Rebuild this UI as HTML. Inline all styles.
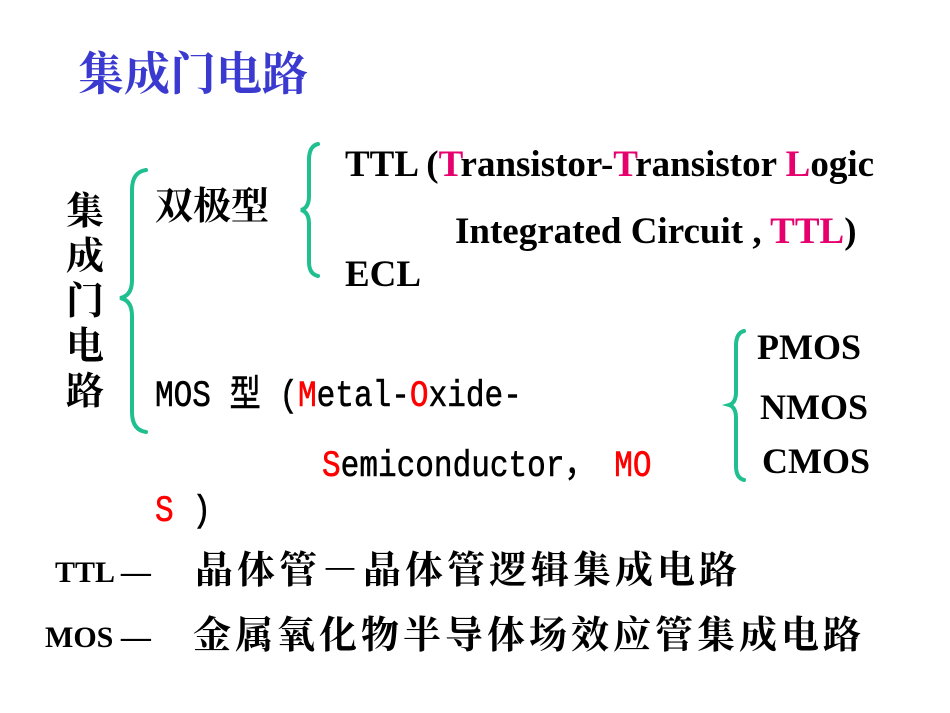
<!DOCTYPE html>
<html><head><meta charset="utf-8"><style>
body{margin:0;width:950px;height:713px;background:#fff;position:relative;overflow:hidden}
.a{position:absolute;white-space:nowrap;line-height:1}
.cn{font-family:"Liberation Serif","Noto Serif CJK SC",serif;font-weight:bold}
.en{font-family:"Liberation Serif",serif;font-weight:bold;font-size:36px}
.mo{font-family:"Liberation Mono","Noto Sans CJK SC",monospace;font-size:37px;transform:scaleX(0.84);transform-origin:left top;-webkit-text-stroke:0.6px currentColor}
.p{color:#e6006e}.r{color:#f00}
</style></head><body>
<div class="a cn" style="left:78px;top:52px;font-size:46px;color:#3a3ad0">集成门电路</div>
<div class="a cn" style="left:66px;top:190px;font-size:38px;line-height:45px;width:40px;white-space:normal">集成门电路</div>
<svg class="a" style="left:0;top:0" width="950" height="713">
<g fill="none" stroke="#1fbf8f" stroke-width="4" stroke-linecap="round">
<path d="M146,170 Q132,172 132,190 L132,280 Q132,296 120,298 Q132,300 132,316 L132,412 Q132,430 146,432"/>
<path d="M318,144 Q309,146 309,160 L309,196 Q309,208 301,210 Q309,212 309,224 L309,262 Q309,274 318,276"/>
<path d="M744,331 Q736,333 736,346 L736,392 Q736,403 729,405 Q736,407 736,418 L736,466 Q736,478 744,480"/>
</g></svg>
<div class="a cn" style="left:155px;top:188px;font-size:38px">双极型</div>
<div class="a en" style="left:345px;top:146px;font-size:37px">TTL (<span class="p">T</span>ransistor-<span class="p">T</span>ransistor <span class="p">L</span>ogic</div>
<div class="a en" style="left:455px;top:213px;font-size:37px">Integrated Circuit , <span class="p">TTL</span>)</div>
<div class="a en" style="left:345px;top:256px;font-size:37px">ECL</div>
<div class="a en" style="left:757px;top:329px">PMOS</div>
<div class="a en" style="left:760px;top:389px">NMOS</div>
<div class="a en" style="left:762px;top:443px">CMOS</div>
<div class="a mo" style="left:155px;top:379px">MOS 型 (<span class="r">M</span>etal-<span class="r">O</span>xide-</div>
<div class="a mo" style="left:322px;top:449px"><span class="r">S</span>emiconductor， <span class="r">MO</span></div>
<div class="a mo" style="left:155px;top:494px"><span class="r">S</span> )</div>
<div class="a en" style="left:55px;top:558px;font-size:30px">TTL —</div>
<div class="a cn" style="left:195px;top:552px;font-size:38px;letter-spacing:4px">晶体管－晶体管逻辑集成电路</div>
<div class="a en" style="left:45px;top:623px;font-size:30px">MOS —</div>
<div class="a cn" style="left:193px;top:617px;font-size:38px;letter-spacing:4px">金属氧化物半导体场效应管集成电路</div>
</body></html>
